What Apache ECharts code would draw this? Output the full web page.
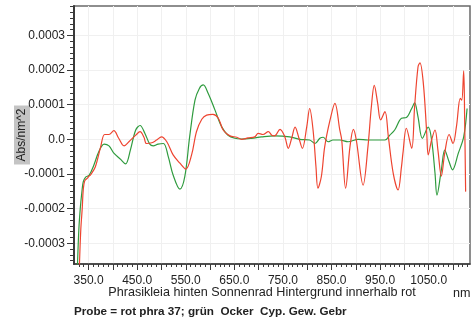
<!DOCTYPE html>
<html><head><meta charset="utf-8">
<script src="https://cdn.jsdelivr.net/npm/echarts@6/dist/echarts.min.js"></script>
<style>html,body{margin:0;padding:0;background:#fff}#c{width:473px;height:322px}</style>
</head><body><div id="c"></div>
<script>
// wavelengths (nm) and values (units of 1e-4 Abs/nm^2)
const redNm = [331,334,337,339,342,347,351,354,364,375,383,392,402,412,423,433,447,456,464,469,480,490,500,511,524,538,550,562,572,583,593,606,617,627,641,655,665,678,692,699,709,720,727,733,744,754,761,768,775,783,790,799,805,812,818,822,829,836,847,857,867,871,879,888,895,901,915,925,932,938,945,951,960,967,977,987,994,997,1004,1015,1021,1028,1032,1039,1046,1049,1056,1063,1069,1076,1083,1092,1100,1107,1115,1118,1122,1124,1126];
const redVal = [-3.7,-2.6,-1.98,-1.46,-1.2,-1.13,-1.06,-1.03,-0.79,-0.21,0.14,0.14,0.25,0.03,-0.19,-0.07,0.12,0.22,0.06,-0.12,-0.10,-0.02,0.07,-0.07,-0.45,-0.69,-0.86,-0.45,0.22,0.58,0.70,0.72,0.61,0.27,0.10,0.06,0.0,0.04,0.07,0.17,0.14,0.22,0.12,0.10,0.29,0.07,-0.26,0.03,0.35,0.03,-0.26,0.36,0.89,0.27,-0.79,-1.41,-1.08,-0.21,0.56,1.04,0.27,-0.02,-1.41,-0.21,0.29,-0.02,-1.32,-0.21,0.94,1.56,1.04,0.56,0.80,0.07,-0.98,-1.46,-0.79,-0.40,0.32,-0.26,0.94,2.09,2.21,1.61,0.17,-0.45,-0.02,0.27,-0.31,-1.06,-0.40,0.14,-0.12,0.36,1.18,1.13,1.98,0.56,-1.51];
const greenNm = [327,330,333,336,339,344,351,361,371,382,392,402,416,426,436,447,456,466,476,483,493,504,514,524,538,548,558,569,578,586,596,610,624,637,651,665,685,706,733,764,785,805,816,826,833,843,853,867,884,905,925,960,970,980,994,1004,1015,1021,1028,1037,1049,1056,1063,1067,1076,1083,1092,1099,1111,1122,1129];
const greenVal = [-3.7,-2.6,-1.98,-1.55,-1.23,-1.09,-1.04,-0.74,-0.36,-0.14,-0.19,-0.40,-0.58,-0.71,-0.31,0.27,0.40,0.17,-0.14,-0.19,-0.14,-0.12,-0.50,-1.03,-1.44,-1.08,0.07,1.13,1.47,1.57,1.33,0.85,0.36,0.12,0.03,0.01,0.03,0.07,0.10,0.07,0.0,-0.02,-0.12,0.03,0.06,-0.07,-0.02,-0.02,-0.07,0.0,-0.02,-0.02,0.12,0.27,0.61,0.63,0.89,1.05,0.65,0.03,0.35,-0.02,-0.98,-1.61,-0.88,-0.31,-0.65,-0.88,-0.40,0.07,0.89];
const xLabels = [350,450,550,650,750,850,950,1050];
const xMajorTicks = [350,400,450,500,550,600,650,700,750,800,850,900,950,1000,1050,1100];
const yLabels = [-3,-2,-1,0,1,2,3];

const X_MIN = 320, X_MAX = 1135, Y_MIN = -3.6, Y_MAX = 3.85;
const xMinor = []; for (let v = 330; v <= 1130; v += 10) xMinor.push(v);
const yMinor = []; for (let k = Math.ceil(Y_MIN * 6); k <= Math.floor(Y_MAX * 6); k++) yMinor.push(k / 6);

const pairs = (a, b) => a.map((v, i) => [v, b[i]]);
const fmtY = v => v === 0 ? '0.0' : (v / 10000).toFixed(4);
const axisCol = '#3a3a3a';
const FF = 'Liberation Sans, Arial, sans-serif';

const chart = echarts.init(document.getElementById('c'), null, {renderer: 'canvas'});
chart.setOption({
  animation: false,
  backgroundColor: '#fff',
  textStyle: {fontFamily: FF},
  grid: {left: 74, right: 3, top: 6, bottom: 58, show: true, borderColor: '#6a6a6a', borderWidth: 1.5},
  title: [
    {text: 'nm', left: 448, top: 282, textStyle: {fontSize: 12.6, fontWeight: 'normal', color: '#222', fontFamily: FF}},
    {text: 'Probe = rot phra 37; grün  Ocker  Cyp. Gew. Gebr', left: 69, top: 301, textStyle: {fontSize: 11.7, fontWeight: 'bold', color: '#222', fontFamily: FF}}
  ],
  xAxis: [
    {type: 'value', min: X_MIN, max: X_MAX, position: 'bottom',
     axisLine: {show: true, onZero: false, lineStyle: {color: axisCol, width: 1.5}},
     axisTick: {show: true, customValues: xMinor, length: 3, lineStyle: {color: axisCol}},
     axisLabel: {show: false}, splitLine: {show: false}},
    {type: 'value', min: X_MIN, max: X_MAX, position: 'bottom',
     name: 'Phrasikleia hinten Sonnenrad Hintergrund innerhalb rot', nameLocation: 'middle', nameGap: 22,
     nameMoveOverlap: false,
     nameTextStyle: {fontSize: 12.6, color: '#222', padding: [0, 20, 0, 0]},
     axisLine: {show: false, onZero: false},
     axisTick: {show: true, customValues: xMajorTicks, length: 6, lineStyle: {color: axisCol}},
     axisLabel: {show: true, customValues: xLabels, formatter: v => v.toFixed(1), fontSize: 12, color: '#222', margin: 11},
     splitLine: {show: true, lineStyle: {color: '#f0f0f0', width: 1}}}
  ],
  yAxis: [
    {type: 'value', min: Y_MIN, max: Y_MAX, position: 'left',
     name: 'Abs/nm^2', nameLocation: 'middle', nameGap: 44, nameRotate: 90, nameMoveOverlap: false,
     nameTextStyle: {fontSize: 12, color: '#222', backgroundColor: '#c4c4c4', padding: [2, 3, 2, 3]},
     axisLine: {show: true, onZero: false, lineStyle: {color: axisCol, width: 2}},
     axisTick: {show: true, customValues: yMinor, length: 4, lineStyle: {color: axisCol}},
     axisLabel: {show: false}, splitLine: {show: false}},
    {type: 'value', min: Y_MIN, max: Y_MAX, position: 'left',
     axisLine: {show: false, onZero: false},
     axisTick: {show: true, customValues: yLabels, length: 7, lineStyle: {color: axisCol}},
     axisLabel: {show: true, customValues: yLabels, formatter: fmtY, fontSize: 12, color: '#222', margin: 9},
     splitLine: {show: true, lineStyle: {color: '#f0f0f0', width: 1}}}
  ],
  series: [
    {type: 'line', name: 'grün', xAxisIndex: 0, yAxisIndex: 0, data: pairs(greenNm, greenVal),
     showSymbol: false, smooth: 0.35, lineStyle: {color: '#2f9b3e', width: 1.2}, itemStyle: {color: '#2f9b3e'}},
    {type: 'line', name: 'rot', xAxisIndex: 0, yAxisIndex: 0, data: pairs(redNm, redVal),
     showSymbol: false, smooth: 0.35, lineStyle: {color: '#ee4430', width: 1.2}, itemStyle: {color: '#ee4430'}}
  ]
});
</script>
</body></html>
